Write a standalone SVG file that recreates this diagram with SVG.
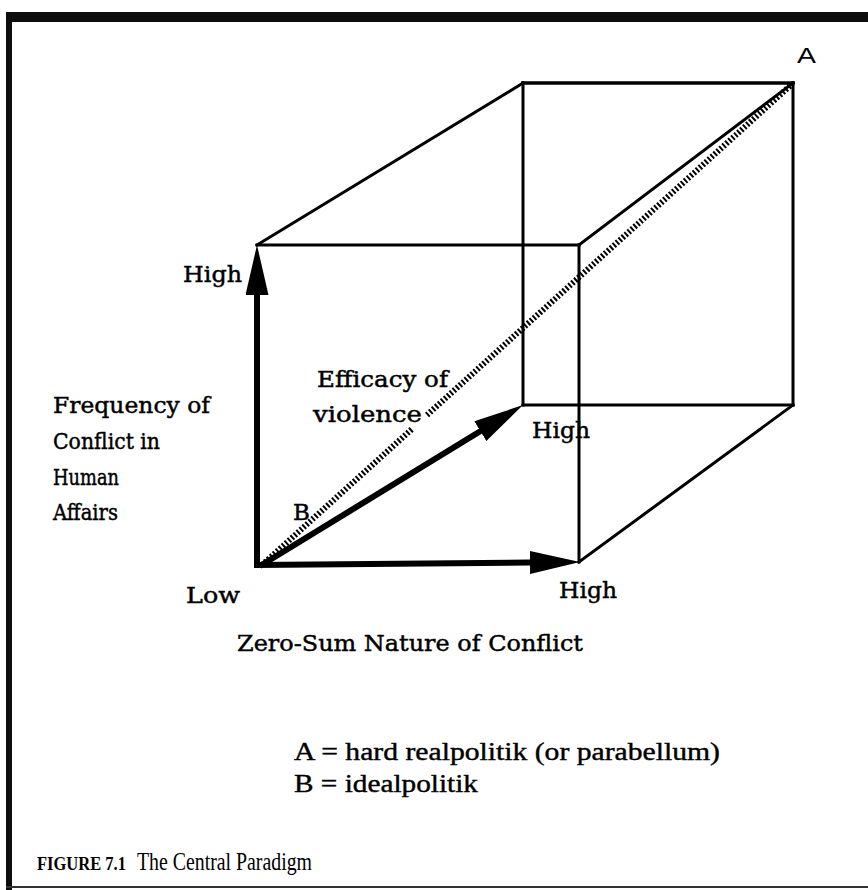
<svg xmlns="http://www.w3.org/2000/svg" width="868" height="890" viewBox="0 0 868 890">
<style>
.edge{stroke:#000;stroke-width:3;fill:none;stroke-linecap:square}
.axis{stroke:#000;stroke-width:6;fill:none}
.hatch{stroke:#000;stroke-width:6;fill:none;stroke-dasharray:2 2}
.lbl{font-family:"DejaVu Serif","Liberation Serif",serif;font-size:23px;fill:#000;stroke:#000;stroke-width:0.45}
.leg{font-family:"Liberation Serif","Times New Roman",serif;font-size:25px;fill:#000;stroke:#000;stroke-width:0.4}
.cap{font-family:"Liberation Serif","Times New Roman",serif;fill:#000}
</style>
<defs>
<marker id="ah" markerUnits="userSpaceOnUse" markerWidth="52" markerHeight="24" refX="20" refY="11.5" orient="auto">
<path d="M0,0 L50,11.5 L0,23 Z" fill="#000"/>
</marker>
</defs>
<rect x="0" y="0" width="868" height="890" fill="#fff"/>
<g id="frame">
<rect x="6" y="12" width="862" height="10" fill="#0d0d0d"/>
<rect x="6" y="12" width="6" height="878" fill="#0d0d0d"/>
<rect x="6" y="886" width="862" height="2" fill="#333"/>
</g>
<g id="cube">
<line class="edge" x1="257" y1="245" x2="579" y2="245"/>
<line class="edge" x1="579" y1="245" x2="579" y2="562"/>
<line class="edge" x1="257" y1="245" x2="523" y2="83"/>
<line class="edge" x1="523" y1="83" x2="793" y2="83" style="stroke-width:3.6"/>
<line class="edge" x1="579" y1="245" x2="793" y2="83"/>
<line class="edge" x1="793" y1="83" x2="793" y2="405"/>
<line class="edge" x1="523" y1="83" x2="523" y2="405"/>
<line class="edge" x1="523" y1="405" x2="793" y2="405"/>
<line class="edge" x1="579" y1="562" x2="793" y2="405"/>
</g>
<g id="connectors">
<line class="hatch" x1="262" y1="565" x2="412" y2="429"/>
<line class="hatch" x1="427" y1="415" x2="791" y2="85"/>
<line class="axis" x1="257" y1="568" x2="257" y2="275" marker-end="url(#ah)"/>
<line class="axis" x1="257" y1="565" x2="550" y2="562.3" marker-end="url(#ah)"/>
<line class="axis" x1="260" y1="566" x2="497.4" y2="420.7" marker-end="url(#ah)"/>
</g>
<g id="point-A"><text x="797" y="63" style="font-family:'Liberation Sans',Arial,sans-serif;font-size:22px" textLength="19" lengthAdjust="spacingAndGlyphs">A</text></g>
<g id="point-B"><text class="lbl" x="293" y="520">B</text></g>
<g id="y-axis-label">
<text class="lbl" x="183" y="282" textLength="59" lengthAdjust="spacingAndGlyphs">High</text>
<text class="lbl" x="53" y="413" textLength="157" lengthAdjust="spacingAndGlyphs">Frequency of</text>
<text class="lbl" x="53" y="449" textLength="107" lengthAdjust="spacingAndGlyphs">Conflict in</text>
<text class="lbl" x="53" y="485" textLength="66" lengthAdjust="spacingAndGlyphs">Human</text>
<text class="lbl" x="53" y="520" textLength="65" lengthAdjust="spacingAndGlyphs">Affairs</text>
</g>
<g id="z-axis-label">
<text class="lbl" x="317" y="387" textLength="131" lengthAdjust="spacingAndGlyphs">Efficacy of</text>
<text class="lbl" x="313" y="422" textLength="109" lengthAdjust="spacingAndGlyphs">violence</text>
<text class="lbl" x="532" y="438" textLength="58" lengthAdjust="spacingAndGlyphs">High</text>
</g>
<g id="x-axis-label">
<text class="lbl" x="186" y="603" textLength="54" lengthAdjust="spacingAndGlyphs">Low</text>
<text class="lbl" x="559" y="598" textLength="58" lengthAdjust="spacingAndGlyphs">High</text>
<text class="lbl" x="237" y="651" textLength="346" lengthAdjust="spacingAndGlyphs">Zero-Sum Nature of Conflict</text>
</g>
<g id="legend">
<text class="leg" x="294" y="760" textLength="426" lengthAdjust="spacingAndGlyphs">A = hard realpolitik (or parabellum)</text>
<text class="leg" x="294" y="792" textLength="184" lengthAdjust="spacingAndGlyphs">B = idealpolitik</text>
</g>
<g id="caption">
<text class="cap" x="37" y="870" style="font-size:18px;font-weight:bold" textLength="89" lengthAdjust="spacingAndGlyphs">FIGURE 7.1</text>
<text class="cap" x="137" y="870" style="font-size:25px" textLength="175" lengthAdjust="spacingAndGlyphs">The Central Paradigm</text>
</g>
</svg>
